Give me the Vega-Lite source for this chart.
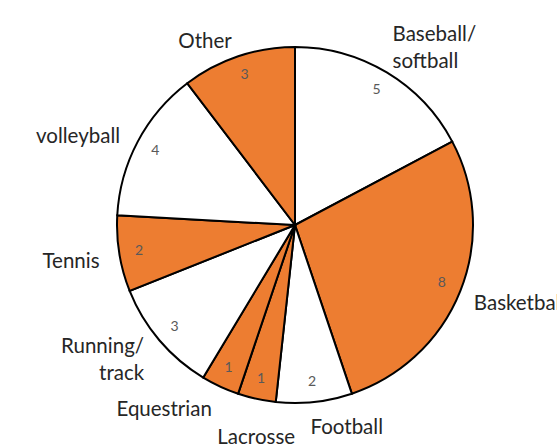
{
  "$schema": "https://vega.github.io/schema/vega-lite/v6.json",
  "autosize": {"type": "none"},
  "width": 524,
  "height": 444,
  "padding": {"left": 33, "top": 3, "right": 0, "bottom": 0},
  "background": "white",
  "config": {"view": {"stroke": null}},
  "data": {
    "values": [
      {"order": 1, "sport": "Baseball/\nsoftball", "count": 5, "side": "right", "lines": 2},
      {"order": 2, "sport": "Basketball", "count": 8, "side": "right", "lines": 1},
      {"order": 3, "sport": "Football", "count": 2, "side": "right", "lines": 1},
      {"order": 4, "sport": "Lacrosse", "count": 1, "side": "bottom", "lines": 1},
      {"order": 5, "sport": "Equestrian", "count": 1, "side": "left", "lines": 1},
      {"order": 6, "sport": "Running/\ntrack", "count": 3, "side": "left", "lines": 2},
      {"order": 7, "sport": "Tennis", "count": 2, "side": "left", "lines": 1},
      {"order": 8, "sport": "volleyball", "count": 4, "side": "left", "lines": 1},
      {"order": 9, "sport": "Other", "count": 3, "side": "left", "lines": 1}
    ]
  },
  "encoding": {
    "theta": {"field": "count", "type": "quantitative", "stack": true},
    "order": {"field": "order", "type": "quantitative"}
  },
  "layer": [
    {
      "mark": {"type": "arc", "outerRadius": 178, "stroke": "black", "strokeWidth": 2},
      "encoding": {
        "color": {
          "field": "sport",
          "type": "nominal",
          "legend": null,
          "scale": {
            "domain": ["Baseball/\nsoftball", "Basketball", "Football", "Lacrosse", "Equestrian", "Running/\ntrack", "Tennis", "volleyball", "Other"],
            "range": ["#ffffff", "#ED7D31", "#ffffff", "#ED7D31", "#ED7D31", "#ffffff", "#ED7D31", "#ffffff", "#ED7D31"]
          }
        }
      }
    },
    {
      "mark": {"type": "text", "radius": 158, "font": "Lato", "fontSize": 14, "fill": "#595959", "baseline": "middle"},
      "encoding": {"text": {"field": "count", "type": "quantitative"}}
    },
    {
      "mark": {"type": "text", "radius": 199, "align": "left", "font": "Lato", "fontSize": 20.5, "fill": "#262626", "baseline": "middle", "dx": -6, "dy": 5},
      "encoding": {"text": {"condition": {"test": "datum.side === 'right' && datum.lines === 1", "field": "sport"}, "value": ""}}
    },
    {
      "mark": {"type": "text", "radius": 198, "align": "right", "font": "Lato", "fontSize": 20.5, "fill": "#262626", "baseline": "middle", "dy": 5},
      "encoding": {"text": {"condition": {"test": "datum.side === 'left' && datum.lines === 1", "field": "sport"}, "value": ""}}
    },
    {
      "mark": {"type": "text", "radius": 199, "align": "left", "font": "Lato", "fontSize": 20.5, "fill": "#262626", "lineBreak": "\n", "lineHeight": 27, "baseline": "middle", "dx": -5, "dy": -19},
      "encoding": {"text": {"condition": {"test": "datum.side === 'right' && datum.lines === 2", "field": "sport"}, "value": ""}}
    },
    {
      "mark": {"type": "text", "radius": 198, "align": "right", "font": "Lato", "fontSize": 20.5, "fill": "#262626", "lineBreak": "\n", "lineHeight": 27, "baseline": "middle", "dy": -6},
      "encoding": {"text": {"condition": {"test": "datum.side === 'left' && datum.lines === 2", "field": "sport"}, "value": ""}}
    },
    {
      "mark": {"type": "text", "radius": 213, "align": "center", "font": "Lato", "fontSize": 20.5, "fill": "#262626", "baseline": "middle", "dx": 7, "dy": 5},
      "encoding": {"text": {"condition": {"test": "datum.side === 'bottom'", "field": "sport"}, "value": ""}}
    }
  ]
}
